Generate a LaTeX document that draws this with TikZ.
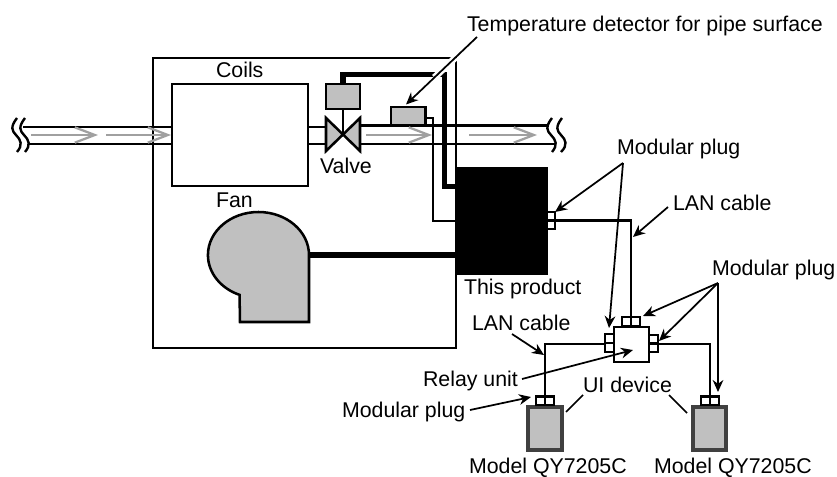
\documentclass[tikz,border=0pt]{standalone}
\usepackage{fontspec}
\setmainfont{Liberation Sans}
\usetikzlibrary{arrows.meta,calc}
\definecolor{ggrey}{HTML}{C0C0C0}
\definecolor{flowgrey}{HTML}{A0A0A0}
\definecolor{devedge}{HTML}{404040}
\newcommand{\pxbox}[6]{\pgfmathsetmacro\cw{(#4-#2)*.75}\pgfmathsetmacro\ch{(#5-#3)*.75}\node[#6,minimum width=\cw pt,minimum height=\ch pt] (#1) at ({(#2+#4)/2},{(#3+#5)/2}) {};}
\tikzset{
 x=.75pt,y=-.75pt,
 boxed/.style={draw=black,line width=1.9pt,inner sep=0pt,outer sep=0pt,fill=white},
 greybox/.style={boxed,fill=ggrey},
 device/.style={draw=devedge,line width=2.8pt,fill=ggrey,inner sep=0pt,outer sep=0pt},
 plugbox/.style={draw=black,line width=1.8pt,fill=white,inner sep=0pt,outer sep=0pt},
 pipe/.style={line width=1.8pt,black},
 flow/.style={line width=1.7pt,flowgrey,-{Straight Barb[length=15pt,width=11.5pt,line width=1.7pt]}},
 thickwire/.style={line width=3.8pt,black,line join=miter},
 wire/.style={line width=1.5pt,black},
 cable/.style={line width=2pt,black},
 callout/.style={line width=1.3pt,black,-{Stealth[length=9pt,width=8pt]}},
 leader/.style={line width=1.3pt,black},
 halo/.style={line width=5pt,white},
 lab/.style={font=\fontsize{16}{18}\selectfont,inner sep=0pt,outer sep=0pt,black},
 squig/.style={line width=1.8pt,black},
}
\begin{document}
\begin{tikzpicture}
\useasboundingbox (0,0) rectangle (837,477);
% pipes
\coordinate (plt) at (23,127); \coordinate (plb) at (28,144);
\coordinate (prt) at (549,125.5); \coordinate (prb) at (556,144);
\coordinate (ct) at (172,127); \coordinate (cb) at (172,144);
\draw[pipe] (plt) -- (ct); \draw[pipe] (plb) -- (cb);
\pxbox{outer}{153}{58}{456}{348}{boxed,fill=none}
\pxbox{coils}{172}{84}{308}{186}{boxed}
\coordinate (vl) at (326,127); \coordinate (vlb) at (326,144);
\coordinate (cr) at (308,127); \coordinate (crb) at (308,144);
\draw[pipe] (cr) -- (vl); \draw[pipe] (crb) -- (vlb);
\coordinate (vr) at (360,125.5); \coordinate (vrb) at (360,144);
\draw[pipe] (vr) -- (prt); \draw[pipe] (vrb) -- (prb);
% flows
\coordinate (f1a) at (31,135); \coordinate (f1b) at (98,135);
\coordinate (f2a) at (106,135); \coordinate (f2b) at (171,135);
\coordinate (f3a) at (366,135); \coordinate (f3b) at (432,135);
\coordinate (f4a) at (469,135); \coordinate (f4b) at (537,135);
\draw[flow] (f1a) -- (f1b); \draw[flow] (f2a) -- (f2b);
\draw[flow] (f3a) -- (f3b); \draw[flow] (f4a) -- (f4b);
% squiggles
\draw[squig] (17,118) .. controls (10,127) and (12,131) .. (16,135) .. controls (21,140) and (23,145) .. (17,152);
\draw[squig] (25,118) .. controls (18,127) and (20,131) .. (24,135) .. controls (29,140) and (31,145) .. (25,152);
\draw[squig] (552,118) .. controls (545,127) and (547,131) .. (551,135) .. controls (556,140) and (558,145) .. (552,152);
\draw[squig] (562,118) .. controls (555,127) and (557,131) .. (561,135) .. controls (566,140) and (568,145) .. (561,152);
% valve
\pxbox{act}{326}{84}{360}{109}{greybox}
\coordinate (vc) at (343,134.5);
\draw[boxed,fill=ggrey,line join=miter] (326,118) -- (326,151) -- (vc) -- cycle;
\draw[boxed,fill=ggrey,line join=miter] (360,118) -- (360,151) -- (vc) -- cycle;
\draw[line width=1.5pt] (act.south) -- (vc);
% sensor
\pxbox{sensor}{391}{107}{425.5}{125}{greybox}
% product
\pxbox{product}{456}{167}{547}{274}{draw=black,fill=black,inner sep=0pt,outer sep=0pt}
\coordinate (w1) at (433,118); \coordinate (w2) at (433,221); \coordinate (w3) at (456,221);
\coordinate (s1) at (425.5,118);
\draw[wire] (s1) -- (w1) -- (w2) -- (w3);
\coordinate (t1) at (444.5,74.7); \coordinate (t2) at (444.5,186.5); \coordinate (t3) at (456,186.5);
\draw[thickwire] (act.north) -- (343,74.7) -- (t1) -- (t2) -- (t3);
% fan
\coordinate (fanout) at (309,255);
\draw[greybox] (fanout) arc[start angle=0,end angle=248,x radius=37.9pt,y radius=32.25pt] -- (240,322) -- (309,322) -- cycle;
\coordinate (pfan) at (456,255);
\draw[thickwire] (fanout) -- (pfan);
% plugs and relay
\pxbox{relay}{614}{327}{649}{362}{boxed}
\pxbox{pprod}{547}{212}{555}{229}{plugbox}
\draw[plugbox] (pprod.west) -- (pprod.east);
\pxbox{ptop}{622}{317}{640}{326.5}{plugbox}
\draw[plugbox] (ptop.north) -- (ptop.south);
\pxbox{pleft}{605}{334}{614}{352}{plugbox}
\draw[plugbox] (pleft.west) -- (pleft.east);
\pxbox{pright}{649}{335}{658}{352}{plugbox}
\draw[plugbox] (pright.west) -- (pright.east);
\pxbox{ui1}{528}{407}{562}{450}{device}
\pxbox{ui2}{693}{407}{726}{450}{device}
\pxbox{pu1}{536}{396.5}{554}{405}{plugbox}
\draw[plugbox] (pu1.north) -- (pu1.south);
\pxbox{pu2}{701}{396.5}{719}{405}{plugbox}
\draw[plugbox] (pu2.north) -- (pu2.south);
% cables
\coordinate (c1) at (631,220.5); \coordinate (c2) at (545,344); \coordinate (c3) at (710,344);
\draw[cable] (pprod.east |- c1) -- (c1) -- (ptop.north);
\draw[cable] (pleft.west |- c2) -- (c2) -- (pu1.north);
\draw[cable] (pright.east |- c3) -- (c3) -- (pu2.north);
% labels
\node[lab,anchor=base west] (ttemp) at (467,32) {Temperature detector for pipe surface};
\node[lab,anchor=base west] (tcoils) at (216,78) {Coils};
\node[lab,anchor=base west] (tvalve) at (320,174) {Valve};
\node[lab,anchor=base west] (tfan) at (216,208) {Fan};
\node[lab,anchor=base west] (tprod) at (464,294) {This product};
\node[lab,anchor=base west] (tmp1) at (617,155) {Modular plug};
\node[lab,anchor=base west] (tlan1) at (673,210) {LAN cable};
\node[lab,anchor=base west] (tmp2) at (712,275) {Modular plug};
\node[lab,anchor=base west] (tlan2) at (472,330) {LAN cable};
\node[lab,anchor=base west] (trelay) at (423,386) {Relay unit};
\node[lab,anchor=base west] (tui) at (583,392) {UI device};
\node[lab,anchor=base west] (tmp3) at (342,417) {Modular plug};
\node[lab,anchor=base west] (tm1) at (469,473) {Model QY7205C};
\node[lab,anchor=base west] (tm2) at (654,473) {Model QY7205C};
% arrow to sensor with white halo
\coordinate (a0) at (477,37); \coordinate (a1) at (406,104.5);
\draw[halo] ($(a0)!.3!(a1)$) -- ($(a0)!.6!(a1)$);
\draw[callout] (a0) -- (a1);
\coordinate (m1) at (623,163); \coordinate (m1a) at (555,212); \coordinate (m1b) at (609,328);
\draw[callout] (m1) -- (m1a); \draw[callout] (m1) -- (m1b);
\coordinate (l1) at (668,207); \coordinate (l1a) at (633,237);
\draw[callout] (l1) -- (l1a);
\coordinate (m2) at (718,283); \coordinate (m2a) at (643,316); \coordinate (m2b) at (659,341); \coordinate (m2c) at (718,392);
\draw[callout] (m2) -- (m2a); \draw[callout] (m2) -- (m2b); \draw[callout] (m2) -- (m2c);
\coordinate (l2) at (512,334); \coordinate (l2a) at (544,355);
\draw[callout] (l2) -- (l2a);
\coordinate (r0) at (522,379); \coordinate (r1) at (633,350);
\draw[callout] (r0) -- (r1);
\coordinate (m3) at (470,410); \coordinate (m3a) at (531,397);
\draw[callout] (m3) -- (m3a);
\coordinate (u1) at (583,395); \coordinate (u1a) at (566,412);
\coordinate (u2) at (669,395); \coordinate (u2a) at (687,413);
\draw[leader] (u1) -- (u1a); \draw[leader] (u2) -- (u2a);
\end{tikzpicture}
\end{document}
